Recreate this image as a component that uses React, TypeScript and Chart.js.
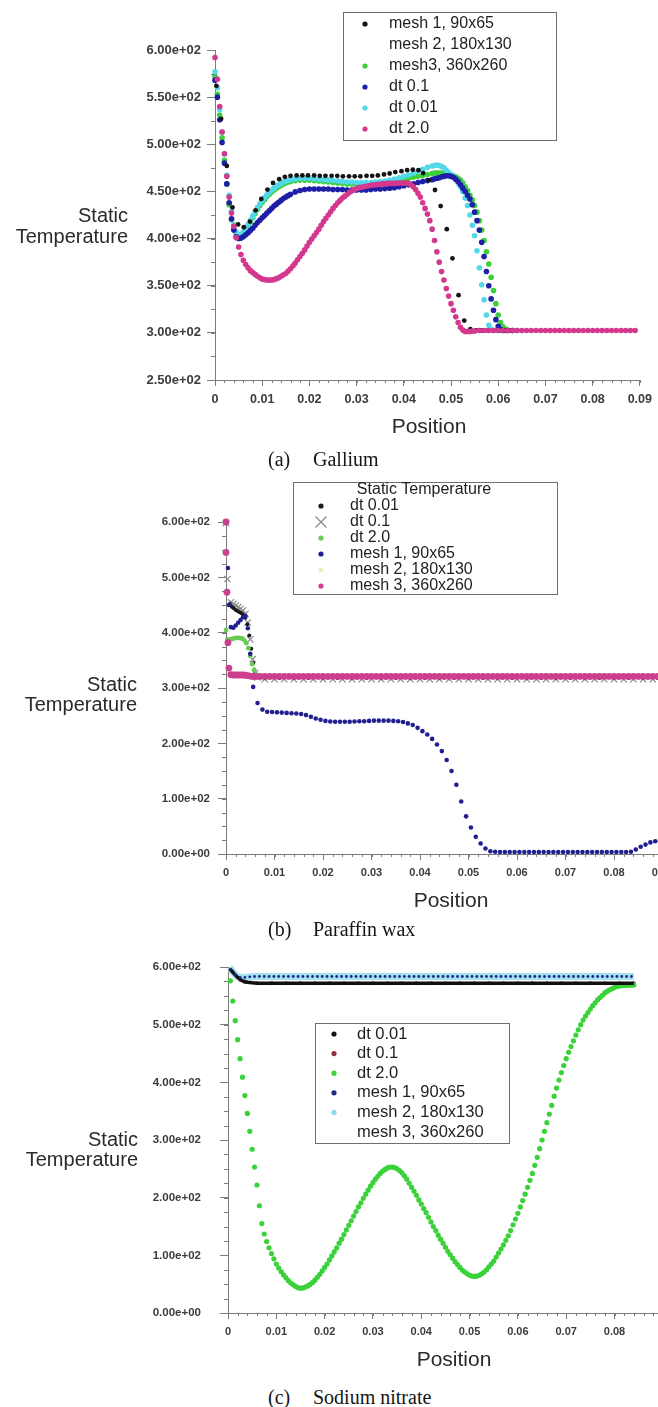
import React, { useEffect, useRef } from "react";
import { Chart, registerables } from "chart.js";

Chart.register(...registerables);

type Pair = [number, number];

const SANS = "'Liberation Sans', Arial, sans-serif";
const SERIF = "'Liberation Serif', 'Times New Roman', serif";
const AXIS = "#7c7c7c";
const TICK = "#3c3c3c";

// ================= (a) Gallium =================
const A_LABELS = ["mesh 1, 90x65", "mesh 2, 180x130", "mesh3, 360x260", "dt 0.1", "dt 0.01", "dt 2.0"];
const A_MESH1: Pair[] = [[0.0003,562],[0.0013,527],[0.0025,477],[0.0037,433],[0.0049,415],[0.0061,412],[0.0074,418],[0.0086,430],[0.0098,442],[0.0111,452],[0.0123,459],[0.0136,463],[0.0148,465.5],[0.016,466.5],[0.0173,467],[0.0185,467],[0.0197,467],[0.021,467],[0.0222,466.5],[0.0234,466.5],[0.0247,466.5],[0.0259,466.5],[0.0271,466],[0.0284,466],[0.0296,466],[0.0308,466],[0.0321,466.5],[0.0333,466.5],[0.0345,467],[0.0358,468],[0.037,469],[0.0382,470.5],[0.0395,471.5],[0.0407,472.5],[0.0419,473],[0.0431,472.5],[0.0441,469.5],[0.0453,462],[0.0466,451.5],[0.0478,434.5],[0.0491,410],[0.0503,379],[0.0516,340],[0.0528,313],[0.0541,304],[0.0553,302.5],[0.0565,302.5],[0.0578,302.5],[0.059,302.5],[0.0602,302.5],[0.0615,302.5],[0.0627,302.5]];
const A_MESH2: Pair[] = [];
const A_MESH3: Pair[] = [[0,572],[0.0005,553],[0.001,531],[0.0015,507],[0.002,483],[0.0025,458],[0.003,436],[0.0035,420],[0.004,410],[0.0045,404],[0.005,402],[0.0055,403],[0.006,405.5],[0.0065,409],[0.007,413],[0.0075,417.5],[0.008,422],[0.0085,426.5],[0.009,431],[0.0095,435],[0.01,438.5],[0.0105,441.5],[0.011,444.5],[0.0115,447],[0.012,449.5],[0.0125,451.5],[0.013,453.5],[0.0135,455],[0.014,456.5],[0.0145,458],[0.015,459],[0.0155,460],[0.016,460.5],[0.017,461.5],[0.018,462],[0.019,462],[0.02,462],[0.021,461.5],[0.022,461],[0.023,460.5],[0.024,460],[0.025,459.5],[0.026,459],[0.027,458.5],[0.028,458],[0.029,458],[0.03,457.5],[0.031,457.5],[0.032,457.5],[0.033,457.5],[0.034,458],[0.035,458.5],[0.036,459],[0.037,460],[0.038,461],[0.039,462],[0.04,463],[0.041,464],[0.042,465],[0.043,466],[0.044,467],[0.045,468],[0.046,469],[0.0465,469.5],[0.047,469.5],[0.0475,469.5],[0.048,469.5],[0.0485,469],[0.049,468.5],[0.0495,468],[0.05,467.5],[0.0505,466.5],[0.051,465.5],[0.0515,464],[0.052,462],[0.0525,459],[0.053,455],[0.0535,451],[0.054,446],[0.0545,441],[0.055,435],[0.0555,428],[0.056,419],[0.0565,409],[0.057,398],[0.0575,386],[0.058,373],[0.0585,359],[0.059,345],[0.0595,331],[0.06,319],[0.0605,311],[0.061,306.5],[0.0615,304],[0.062,303],[0.063,302.5],[0.064,302.5]];
const A_DT01: Pair[] = [[0,568],[0.0005,550],[0.001,526],[0.0015,502],[0.002,480],[0.0025,458],[0.003,438],[0.0035,421],[0.004,409],[0.0045,402],[0.005,400],[0.0055,400.5],[0.006,402],[0.0065,404],[0.007,406],[0.0075,408.5],[0.008,411],[0.0085,414],[0.009,417],[0.0095,419.5],[0.01,422],[0.0105,424.5],[0.011,427],[0.0115,429.5],[0.012,432],[0.0125,434.5],[0.013,436.5],[0.0135,438.5],[0.014,440.5],[0.0145,442.5],[0.015,444],[0.0155,445.5],[0.016,447],[0.017,449.5],[0.018,451],[0.019,452],[0.02,452.5],[0.021,452.5],[0.022,452.5],[0.023,452.5],[0.024,452.5],[0.025,452],[0.026,452],[0.027,452],[0.028,451.5],[0.029,451.5],[0.03,451.5],[0.031,451.5],[0.032,451.5],[0.033,452],[0.034,452.5],[0.035,452.5],[0.036,453],[0.037,453.5],[0.038,454],[0.039,455],[0.04,456],[0.041,457],[0.042,458],[0.043,459.5],[0.044,460.5],[0.045,461.5],[0.046,462.5],[0.0465,463.5],[0.047,464],[0.0475,464.5],[0.048,465.5],[0.0485,466],[0.049,466.5],[0.0495,466.5],[0.05,466],[0.0505,465],[0.051,463],[0.0515,460.5],[0.052,457],[0.0525,453.5],[0.053,450],[0.0535,446],[0.054,442],[0.0545,436],[0.055,428],[0.0555,419],[0.056,409],[0.0565,396],[0.057,381],[0.0575,365],[0.058,350],[0.0585,336],[0.059,324],[0.0595,314],[0.06,307],[0.0605,303.5],[0.061,302.5],[0.0615,302.5],[0.062,302.5],[0.063,302.5]];
const A_DT001: Pair[] = [[0,577],[0.0005,560],[0.001,537],[0.0015,513],[0.002,490],[0.0025,467],[0.003,446],[0.0035,429],[0.004,415],[0.0045,407],[0.005,404],[0.0055,404.5],[0.006,407],[0.0065,411],[0.007,415],[0.0075,419.5],[0.008,424],[0.0085,428.5],[0.009,433],[0.0095,437],[0.01,440.5],[0.0105,443.5],[0.011,446.5],[0.0115,449],[0.012,451.5],[0.0125,453.5],[0.013,455.5],[0.0135,457],[0.014,458.5],[0.0145,460],[0.015,461],[0.0155,462],[0.016,462.5],[0.017,463.5],[0.018,464],[0.019,464],[0.02,464],[0.021,463.5],[0.022,463],[0.023,462.5],[0.024,462],[0.025,461.5],[0.026,461],[0.027,460.5],[0.028,460],[0.029,460],[0.03,459.5],[0.031,459.5],[0.032,459.5],[0.033,459.5],[0.034,460],[0.035,460.5],[0.036,461],[0.037,462],[0.038,463],[0.039,464.5],[0.04,466],[0.041,467.5],[0.042,469.5],[0.043,471.5],[0.044,473.5],[0.045,475.5],[0.046,477],[0.0465,477.5],[0.047,478],[0.0475,477.5],[0.048,476.5],[0.0485,475],[0.049,472.5],[0.0495,470],[0.05,468],[0.0505,466],[0.051,463],[0.0515,459],[0.052,455],[0.0525,450],[0.053,443],[0.0535,435],[0.054,425],[0.0545,414],[0.055,403],[0.0555,387],[0.056,369],[0.0565,351],[0.057,335],[0.0575,319],[0.058,308],[0.0585,303.5],[0.059,302.5],[0.0595,302.5],[0.06,302.5],[0.061,302.5],[0.062,302.5]];
const A_DT2: Pair[] = [[0,592],[0.0005,569],[0.001,540],[0.0015,513],[0.002,490],[0.0025,466],[0.003,444],[0.0035,427],[0.004,413],[0.0045,401],[0.005,391],[0.0055,383],[0.006,377],[0.0065,372.5],[0.007,369],[0.0075,366],[0.008,364],[0.0085,362],[0.009,360],[0.0095,358.5],[0.01,357],[0.0105,356.5],[0.011,356],[0.0115,356],[0.012,356],[0.0125,356.5],[0.013,357.5],[0.0135,358.5],[0.014,360],[0.0145,361.5],[0.015,363],[0.0155,365.5],[0.016,368],[0.0165,371],[0.017,374],[0.0175,377.5],[0.018,381],[0.0185,384.5],[0.019,388],[0.0195,392],[0.02,396],[0.0205,399.5],[0.021,403],[0.0215,406.5],[0.022,410],[0.0225,414],[0.023,418],[0.0235,421.5],[0.024,425],[0.0245,428.5],[0.025,432],[0.0255,435],[0.026,438],[0.0265,440.5],[0.027,443],[0.0275,445],[0.028,447],[0.0285,449],[0.029,450.5],[0.0295,452],[0.03,453],[0.0305,454],[0.031,454.5],[0.0315,455],[0.032,455.5],[0.0325,456],[0.033,456.5],[0.0335,457],[0.034,457],[0.0345,457.5],[0.035,457.5],[0.0355,458],[0.036,458],[0.0365,458.5],[0.037,458.5],[0.0375,458.5],[0.038,458.5],[0.0385,459],[0.039,459],[0.0395,459],[0.04,459],[0.0405,459],[0.041,458.5],[0.0415,457],[0.042,455],[0.0425,452],[0.043,448],[0.0435,444],[0.044,438],[0.0445,432],[0.045,426],[0.0455,419],[0.046,410],[0.0465,398],[0.047,386],[0.0475,375],[0.048,365],[0.0485,356],[0.049,347],[0.0495,339],[0.05,331],[0.0505,324],[0.051,317],[0.0515,311],[0.052,306],[0.0525,303],[0.053,301.5],[0.0535,301.5],[0.054,301.5],[0.0545,302],[0.055,302],[0.056,302.5],[0.057,302.5],[0.058,302.5],[0.059,302.5],[0.06,302.5],[0.061,302.5],[0.062,302.5],[0.063,302.5],[0.064,302.5],[0.065,302.5],[0.066,302.5],[0.067,302.5],[0.068,302.5],[0.069,302.5],[0.07,302.5],[0.071,302.5],[0.072,302.5],[0.073,302.5],[0.074,302.5],[0.075,302.5],[0.076,302.5],[0.077,302.5],[0.078,302.5],[0.079,302.5],[0.08,302.5],[0.081,302.5],[0.082,302.5],[0.083,302.5],[0.084,302.5],[0.085,302.5],[0.086,302.5],[0.087,302.5],[0.088,302.5],[0.089,302.5]];

// ================= (b) Paraffin wax =================
const B_LABELS = ["dt 0.01", "dt 0.1", "dt 2.0", "mesh 1, 90x65", "mesh 2, 180x130", "mesh 3, 360x260"];
const B_DT001: Pair[] = [[0.0002,472],[0.0008,452],[0.0012,447],[0.0016,444],[0.002,441],[0.0024,439],[0.0028,437],[0.0032,435],[0.0036,432],[0.004,427],[0.0044,415],[0.0048,395],[0.0052,371],[0.0056,345],[0.006,326],[0.0065,319],[0.008,318],[0.011,318],[0.014,318],[0.017,318],[0.02,318],[0.023,318],[0.026,318],[0.029,318],[0.032,318],[0.035,318],[0.038,318],[0.041,318],[0.044,318],[0.047,318],[0.05,318],[0.053,318],[0.056,318],[0.059,318],[0.062,318],[0.065,318],[0.068,318],[0.071,318],[0.074,318],[0.077,318],[0.08,318],[0.083,318],[0.086,318],[0.089,318]];
const B_DT01: Pair[] = [[0,598],[0.0003,497],[0.001,455],[0.0015,452],[0.002,449],[0.0025,446],[0.003,443],[0.0035,440],[0.004,434],[0.0045,418],[0.005,388],[0.0055,352],[0.006,327],[0.0065,319],[0.008,316],[0.01,316],[0.012,316],[0.014,316],[0.016,316],[0.018,316],[0.02,316],[0.022,316],[0.024,316],[0.026,316],[0.028,316],[0.03,316],[0.032,316],[0.034,316],[0.036,316],[0.038,316],[0.04,316],[0.042,316],[0.044,316],[0.046,316],[0.048,316],[0.05,316],[0.052,316],[0.054,316],[0.056,316],[0.058,316],[0.06,316],[0.062,316],[0.064,316],[0.066,316],[0.068,316],[0.07,316],[0.072,316],[0.074,316],[0.076,316],[0.078,316],[0.08,316],[0.082,316],[0.084,316],[0.086,316],[0.088,316],[0.09,316]];
const B_DT2: Pair[] = [[0,405],[0.0003,388],[0.0006,387],[0.001,388],[0.0014,389],[0.0018,390],[0.0022,390.5],[0.0026,390.5],[0.003,390],[0.0034,389],[0.0038,386],[0.0042,381],[0.0046,372],[0.005,358],[0.0054,343],[0.0058,333],[0.0062,325],[0.0066,321],[0.009,319],[0.012,319],[0.015,319],[0.018,319],[0.021,319],[0.024,319],[0.027,319],[0.03,319],[0.033,319],[0.036,319],[0.039,319],[0.042,319],[0.045,319],[0.048,319],[0.051,319],[0.054,319],[0.057,319],[0.06,319],[0.063,319],[0.066,319],[0.069,319],[0.072,319],[0.075,319],[0.078,319],[0.081,319],[0.084,319],[0.087,319],[0.09,319]];
const B_MESH1: Pair[] = [[0.0004,517],[0.0006,450],[0.001,410],[0.0015,409],[0.002,413],[0.0025,418],[0.003,423],[0.0035,428],[0.004,430],[0.0045,408],[0.005,362],[0.0056,302],[0.0065,273],[0.0075,261],[0.0085,257],[0.0095,256.5],[0.0105,256],[0.0115,255.5],[0.0125,255],[0.0135,254.5],[0.0145,254],[0.0155,253],[0.0165,251],[0.0175,248],[0.0185,245],[0.0195,242.5],[0.0205,240.5],[0.0215,239.5],[0.0225,239],[0.0235,239],[0.0245,239],[0.0255,239],[0.0265,239.5],[0.0275,240],[0.0285,240],[0.0295,240.5],[0.0305,241],[0.0315,241],[0.0325,241],[0.0335,241],[0.0345,240.5],[0.0355,240],[0.0365,238.5],[0.0375,236],[0.0385,233],[0.0395,228],[0.0405,222],[0.0415,216],[0.0425,208],[0.0435,198],[0.0445,186],[0.0455,170],[0.0465,150],[0.0475,125],[0.0485,95],[0.0495,68],[0.0505,48],[0.0515,31],[0.0525,19],[0.0535,10],[0.0545,5],[0.0555,4],[0.0565,3.5],[0.0575,3.5],[0.0585,3.5],[0.0595,3.5],[0.0605,3.5],[0.0615,3.5],[0.0625,3.5],[0.0635,3.5],[0.0645,3.5],[0.0655,3.5],[0.0665,3.5],[0.0675,3.5],[0.0685,3.5],[0.0695,3.5],[0.0705,3.5],[0.0715,3.5],[0.0725,3.5],[0.0735,3.5],[0.0745,3.5],[0.0755,3.5],[0.0765,3.5],[0.0775,3.5],[0.0785,3.5],[0.0795,3.5],[0.0805,3.5],[0.0815,3.5],[0.0825,3.5],[0.0835,4],[0.0845,8],[0.0855,13],[0.0865,17],[0.0875,21],[0.0885,23],[0.0895,25]];
const B_MESH2: Pair[] = [];
const B_MESH3: Pair[] = [[0,600],[0,545],[0.0002,473],[0.0004,382],[0.0006,336],[0.001,324],[0.0015,323.5],[0.002,323.5],[0.0025,323.5],[0.003,323.5],[0.0035,323.5],[0.004,323],[0.0045,322.5],[0.005,321.5],[0.0055,321],[0.006,321],[0.007,321],[0.008,321],[0.009,321],[0.01,321],[0.011,321],[0.012,321],[0.013,321],[0.014,321],[0.015,321],[0.016,321],[0.017,321],[0.018,321],[0.019,321],[0.02,321],[0.021,321],[0.022,321],[0.023,321],[0.024,321],[0.025,321],[0.026,321],[0.027,321],[0.028,321],[0.029,321],[0.03,321],[0.031,321],[0.032,321],[0.033,321],[0.034,321],[0.035,321],[0.036,321],[0.037,321],[0.038,321],[0.039,321],[0.04,321],[0.041,321],[0.042,321],[0.043,321],[0.044,321],[0.045,321],[0.046,321],[0.047,321],[0.048,321],[0.049,321],[0.05,321],[0.051,321],[0.052,321],[0.053,321],[0.054,321],[0.055,321],[0.056,321],[0.057,321],[0.058,321],[0.059,321],[0.06,321],[0.061,321],[0.062,321],[0.063,321],[0.064,321],[0.065,321],[0.066,321],[0.067,321],[0.068,321],[0.069,321],[0.07,321],[0.071,321],[0.072,321],[0.073,321],[0.074,321],[0.075,321],[0.076,321],[0.077,321],[0.078,321],[0.079,321],[0.08,321],[0.081,321],[0.082,321],[0.083,321],[0.084,321],[0.085,321],[0.086,321],[0.087,321],[0.088,321],[0.089,321],[0.09,321]];

// ================= (c) Sodium nitrate =================
const C_LABELS = ["dt 0.01", "dt 0.1", "dt 2.0", "mesh 1, 90x65", "mesh 2, 180x130", "mesh 3, 360x260"];
const C_DT001: Pair[] = [[0.0003,597],[0.0008,593],[0.0013,588],[0.002,582],[0.003,576],[0.004,573.5],[0.005,572.5],[0.006,572],[0.008,572],[0.01,572],[0.012,572],[0.014,572],[0.016,572],[0.018,572],[0.02,572],[0.022,572],[0.024,572],[0.026,572],[0.028,572],[0.03,572],[0.032,572],[0.034,572],[0.036,572],[0.038,572],[0.04,572],[0.042,572],[0.044,572],[0.046,572],[0.048,572],[0.05,572],[0.052,572],[0.054,572],[0.056,572],[0.058,572],[0.06,572],[0.062,572],[0.064,572],[0.066,572],[0.068,572],[0.07,572],[0.072,572],[0.074,572],[0.076,572],[0.078,572],[0.08,572],[0.082,572],[0.084,572]];
const C_DT01: Pair[] = [[0.0005,594],[0.0015,585],[0.0025,578],[0.0035,574],[0.006,572],[0.009,572],[0.012,572],[0.015,572],[0.018,572],[0.021,572],[0.024,572],[0.027,572],[0.03,572],[0.033,572],[0.036,572],[0.039,572],[0.042,572],[0.045,572],[0.048,572],[0.051,572],[0.054,572],[0.057,572],[0.06,572],[0.063,572],[0.066,572],[0.069,572],[0.072,572],[0.075,572],[0.078,572],[0.081,572],[0.084,572]];
const C_DT2: Pair[] = [[0.0005,576],[0.001,541],[0.0015,507],[0.002,474],[0.0025,441],[0.003,409],[0.0035,377],[0.004,346],[0.0045,315],[0.005,284],[0.0055,253],[0.006,222],[0.0065,186],[0.007,155],[0.0075,137],[0.008,124],[0.0085,113],[0.009,103],[0.0095,94],[0.01,85],[0.0105,78],[0.011,72],[0.0115,66],[0.012,61],[0.0125,56],[0.013,52],[0.0135,49],[0.014,46],[0.0145,44],[0.015,43],[0.0155,43.5],[0.016,45],[0.0165,47],[0.017,49.5],[0.0175,53],[0.018,57],[0.0185,62],[0.019,67],[0.0195,73],[0.02,79],[0.0205,85],[0.021,92],[0.0215,99],[0.022,106],[0.0225,113],[0.023,121],[0.0235,128],[0.024,136],[0.0245,144],[0.025,152],[0.0255,160],[0.026,168],[0.0265,176],[0.027,184],[0.0275,191],[0.028,199],[0.0285,206],[0.029,213],[0.0295,220],[0.03,226],[0.0305,232],[0.031,237],[0.0315,242],[0.032,246],[0.0325,249],[0.033,251.5],[0.0335,253],[0.034,253],[0.0345,252],[0.035,250],[0.0355,247],[0.036,243],[0.0365,238],[0.037,232],[0.0375,225],[0.038,218],[0.0385,211],[0.039,204],[0.0395,196],[0.04,189],[0.0405,181],[0.041,174],[0.0415,166],[0.042,158],[0.0425,150],[0.043,143],[0.0435,135],[0.044,128],[0.0445,121],[0.045,114],[0.0455,107],[0.046,101],[0.0465,95],[0.047,89],[0.0475,84],[0.048,79],[0.0485,74.5],[0.049,71],[0.0495,68],[0.05,65.5],[0.0505,64],[0.051,63.5],[0.0515,64],[0.052,65.5],[0.0525,68],[0.053,71],[0.0535,75],[0.054,80],[0.0545,85],[0.055,90],[0.0555,97],[0.056,104],[0.0565,111],[0.057,118],[0.0575,126],[0.058,134],[0.0585,143],[0.059,153],[0.0595,163],[0.06,173],[0.0605,184],[0.061,195],[0.0615,206],[0.062,218],[0.0625,230],[0.063,242],[0.0635,256],[0.064,270],[0.0645,285],[0.065,300],[0.0655,315],[0.066,330],[0.0665,345],[0.067,360],[0.0675,376],[0.068,390],[0.0685,404],[0.069,417],[0.0695,429],[0.07,441],[0.0705,452],[0.071,462],[0.0715,472],[0.072,482],[0.0725,491],[0.073,500],[0.0735,508],[0.074,515],[0.0745,521],[0.075,527],[0.0755,533],[0.076,538],[0.0765,543],[0.077,547],[0.0775,551],[0.078,555],[0.0785,558],[0.079,560.5],[0.0795,562.5],[0.08,564.5],[0.0805,566],[0.081,567],[0.0815,567.5],[0.082,568],[0.0825,568],[0.083,568.5],[0.0835,568.5],[0.084,569]];
const C_MESH1: Pair[] = [[0.0005,596],[0.0015,587],[0.0025,582],[0.0035,582],[0.0045,583],[0.0055,583.5],[0.0065,583.5],[0.0075,583.5],[0.0085,583.5],[0.0095,583.5],[0.0105,583.5],[0.0115,583.5],[0.0125,583.5],[0.0135,583.5],[0.0145,583.5],[0.0155,583.5],[0.0165,583.5],[0.0175,583.5],[0.0185,583.5],[0.0195,583.5],[0.0205,583.5],[0.0215,583.5],[0.0225,583.5],[0.0235,583.5],[0.0245,583.5],[0.0255,583.5],[0.0265,583.5],[0.0275,583.5],[0.0285,583.5],[0.0295,583.5],[0.0305,583.5],[0.0315,583.5],[0.0325,583.5],[0.0335,583.5],[0.0345,583.5],[0.0355,583.5],[0.0365,583.5],[0.0375,583.5],[0.0385,583.5],[0.0395,583.5],[0.0405,583.5],[0.0415,583.5],[0.0425,583.5],[0.0435,583.5],[0.0445,583.5],[0.0455,583.5],[0.0465,583.5],[0.0475,583.5],[0.0485,583.5],[0.0495,583.5],[0.0505,583.5],[0.0515,583.5],[0.0525,583.5],[0.0535,583.5],[0.0545,583.5],[0.0555,583.5],[0.0565,583.5],[0.0575,583.5],[0.0585,583.5],[0.0595,583.5],[0.0605,583.5],[0.0615,583.5],[0.0625,583.5],[0.0635,583.5],[0.0645,583.5],[0.0655,583.5],[0.0665,583.5],[0.0675,583.5],[0.0685,583.5],[0.0695,583.5],[0.0705,583.5],[0.0715,583.5],[0.0725,583.5],[0.0735,583.5],[0.0745,583.5],[0.0755,583.5],[0.0765,583.5],[0.0775,583.5],[0.0785,583.5],[0.0795,583.5],[0.0805,583.5],[0.0815,583.5],[0.0825,583.5],[0.0835,583.5]];
const C_MESH2: Pair[] = [[0.0003,599],[0.0008,594],[0.0013,588],[0.002,583],[0.003,581.5],[0.004,582.5],[0.005,583],[0.006,583.5],[0.008,583.5],[0.01,583.5],[0.012,583.5],[0.014,583.5],[0.016,583.5],[0.018,583.5],[0.02,583.5],[0.022,583.5],[0.024,583.5],[0.026,583.5],[0.028,583.5],[0.03,583.5],[0.032,583.5],[0.034,583.5],[0.036,583.5],[0.038,583.5],[0.04,583.5],[0.042,583.5],[0.044,583.5],[0.046,583.5],[0.048,583.5],[0.05,583.5],[0.052,583.5],[0.054,583.5],[0.056,583.5],[0.058,583.5],[0.06,583.5],[0.062,583.5],[0.064,583.5],[0.066,583.5],[0.068,583.5],[0.07,583.5],[0.072,583.5],[0.074,583.5],[0.076,583.5],[0.078,583.5],[0.08,583.5],[0.082,583.5],[0.084,583.5]];
const C_MESH3: Pair[] = [];

// ================= plugins =================
const boxLegendPlugin = {
  id: "boxLegend",
  afterDraw(chart: any, _a: any, o: any) {
    if (!o || !o.show) return;
    const ctx = chart.ctx;
    ctx.save();
    ctx.fillStyle = "#ffffff";
    ctx.fillRect(o.left, o.top, o.width, o.height);
    ctx.strokeStyle = "#6f6f6f";
    ctx.lineWidth = 1;
    ctx.strokeRect(o.left + 0.5, o.top + 0.5, o.width, o.height);
    ctx.fillStyle = "#1e1e1e";
    ctx.textBaseline = "middle";
    ctx.font = `${o.fontSize}px ${SANS}`;
    if (o.title) {
      ctx.textAlign = "center";
      ctx.fillText(o.title, o.titleX, o.titleY);
    }
    ctx.textAlign = "left";
    chart.data.datasets.forEach((ds: any, i: number) => {
      const y = o.firstRowY + i * o.rowHeight;
      if (ds.legendColor) {
        ctx.save();
        if (ds.legendStyle === "crossRot") {
          ctx.strokeStyle = ds.legendColor;
          ctx.lineWidth = 1.3;
          const r = 5.5;
          ctx.beginPath();
          ctx.moveTo(o.markerX - r, y - r);
          ctx.lineTo(o.markerX + r, y + r);
          ctx.moveTo(o.markerX + r, y - r);
          ctx.lineTo(o.markerX - r, y + r);
          ctx.stroke();
        } else {
          ctx.fillStyle = ds.legendColor;
          ctx.beginPath();
          ctx.arc(o.markerX, y, 2.6, 0, Math.PI * 2);
          ctx.fill();
        }
        ctx.restore();
      }
      ctx.fillStyle = "#1e1e1e";
      ctx.fillText(ds.label, o.textX, y);
    });
    ctx.restore();
  },
};

const panelTextPlugin = {
  id: "panelText",
  afterDraw(chart: any, _a: any, o: any) {
    if (!o || !o.items) return;
    const ctx = chart.ctx;
    ctx.save();
    ctx.fillStyle = "#2a2a2a";
    ctx.textBaseline = "middle";
    for (const it of o.items) {
      ctx.font = `${it.size}px ${SANS}`;
      ctx.textAlign = it.align;
      ctx.fillText(it.text, it.x, it.y);
    }
    ctx.restore();
  },
};

const minorTicksPlugin = {
  id: "minorTicks",
  afterDraw(chart: any, _a: any, o: any) {
    if (!o) return;
    const { ctx, chartArea } = chart;
    const xs = chart.scales.x;
    const ys = chart.scales.y;
    ctx.save();
    ctx.strokeStyle = AXIS;
    ctx.lineWidth = 1;
    ctx.beginPath();
    for (let i = 0; ; i++) {
      const v = ys.min + i * o.yStep;
      if (v > ys.max + 1e-9) break;
      const py = Math.round(ys.getPixelForValue(v)) + 0.5;
      ctx.moveTo(chartArea.left - o.yLen, py);
      ctx.lineTo(chartArea.left, py);
    }
    for (let i = 0; ; i++) {
      const v = xs.min + i * o.xStep;
      if (v > xs.max + 1e-9) break;
      const px = Math.round(xs.getPixelForValue(v)) + 0.5;
      ctx.moveTo(px, chartArea.bottom);
      ctx.lineTo(px, chartArea.bottom + o.xLen);
    }
    ctx.stroke();
    ctx.restore();
  },
};

// ================= panel builder =================
interface DS {
  label: string;
  data: Pair[];
  color: string;
  radius: number;
  order: number;
  style?: string;
  lineWidth?: number;
  legendColor: string | null;
}

interface PanelCfg {
  top: number;
  width: number;
  height: number;
  padding: { top: number; left: number; right: number; bottom: number };
  yWidth: number;
  xHeight: number;
  xMax: number;
  yMin: number;
  yStep: number;
  yMinor: number;
  xMinor: number;
  yFont: number;
  xFont: number;
  yPad: number;
  xPad: number;
  legend: any;
  texts: any[];
  datasets: DS[];
}

function fmtY(v: number) {
  const s = Number(v).toExponential(2);
  return s.replace(/e([+-])(\d)$/, "e$10$2");
}

function buildConfig(cfg: PanelCfg): any {
  return {
    type: "scatter",
    data: {
      datasets: cfg.datasets.map((d) => ({
        label: d.label,
        data: d.data.map(([x, y]) => ({ x, y })),
        pointStyle: d.style || "circle",
        pointRadius: d.lineWidth ? 0 : d.radius,
        pointBackgroundColor: d.color,
        pointBorderColor: d.color,
        pointBorderWidth: d.style === "crossRot" ? 1.2 : 0,
        showLine: !!d.lineWidth,
        borderColor: d.color,
        backgroundColor: d.color,
        borderWidth: d.lineWidth || 0,
        order: d.order,
        clip: false,
        legendColor: d.legendColor,
        legendStyle: d.style || "circle",
      })),
    },
    options: {
      responsive: true,
      maintainAspectRatio: false,
      animation: false,
      events: [],
      layout: { padding: cfg.padding },
      plugins: {
        legend: { display: false },
        tooltip: { enabled: false },
        boxLegend: cfg.legend,
        panelText: { items: cfg.texts },
        minorTicks: { yStep: cfg.yMinor, xStep: cfg.xMinor, yLen: 4, xLen: 3 },
      },
      scales: {
        x: {
          type: "linear",
          min: 0,
          max: cfg.xMax,
          afterFit: (s: any) => {
            s.height = cfg.xHeight;
          },
          border: { display: true, color: AXIS, width: 1 },
          grid: { display: true, drawOnChartArea: false, drawTicks: true, tickLength: 6, tickColor: AXIS },
          ticks: {
            stepSize: 0.01,
            includeBounds: false,
            autoSkip: false,
            maxRotation: 0,
            padding: cfg.xPad,
            color: TICK,
            font: { family: SANS, size: cfg.xFont, weight: "bold" },
            callback: (v: any) => (Math.abs(v) < 1e-9 ? "0" : Number(v).toFixed(2)),
          },
        },
        y: {
          type: "linear",
          min: cfg.yMin,
          max: 600,
          afterFit: (s: any) => {
            s.width = cfg.yWidth;
          },
          border: { display: true, color: AXIS, width: 1 },
          grid: { display: true, drawOnChartArea: false, drawTicks: true, tickLength: 8, tickColor: AXIS },
          ticks: {
            stepSize: cfg.yStep,
            autoSkip: false,
            padding: cfg.yPad,
            color: TICK,
            font: { family: SANS, size: cfg.yFont, weight: "bold" },
            callback: (v: any) => fmtY(v),
          },
        },
      },
    },
    plugins: [minorTicksPlugin, boxLegendPlugin, panelTextPlugin],
  };
}

function Panel({ cfg }: { cfg: PanelCfg }) {
  const ref = useRef<HTMLCanvasElement>(null);
  useEffect(() => {
    if (!ref.current) return;
    const chart = new Chart(ref.current, buildConfig(cfg));
    return () => chart.destroy();
  }, [cfg]);
  return (
    <div style={{ position: "absolute", left: 0, top: cfg.top, width: cfg.width, height: cfg.height }}>
      <canvas ref={ref} />
    </div>
  );
}

const PANEL_A: PanelCfg = {
  top: 0,
  width: 658,
  height: 445,
  padding: { top: 50, left: 0, right: 14, bottom: 5 },
  yWidth: 215,
  xHeight: 60,
  xMax: 0.09,
  yMin: 250,
  yStep: 50,
  yMinor: 25,
  xMinor: 0.002,
  yFont: 13,
  xFont: 12.5,
  yPad: 6,
  xPad: 6,
  legend: { show: true, left: 343, top: 12, width: 213, height: 128, firstRowY: 24, rowHeight: 21, markerX: 365, textX: 389, fontSize: 16 },
  texts: [
    { text: "Static", x: 128, y: 216, align: "right", size: 20 },
    { text: "Temperature", x: 128, y: 237, align: "right", size: 20 },
    { text: "Position", x: 429, y: 427, align: "center", size: 21 },
  ],
  datasets: [
    { label: A_LABELS[0], data: A_MESH1, color: "#141414", radius: 2.4, order: 1, legendColor: "#141414" },
    { label: A_LABELS[1], data: A_MESH2, color: "#fbfbf0", radius: 2.4, order: 5, legendColor: null },
    { label: A_LABELS[2], data: A_MESH3, color: "#3ccf3c", radius: 2.8, order: 4, legendColor: "#3ccf3c" },
    { label: A_LABELS[3], data: A_DT01, color: "#1e1ea6", radius: 2.8, order: 2, legendColor: "#1e1ea6" },
    { label: A_LABELS[4], data: A_DT001, color: "#52d8e8", radius: 2.8, order: 3, legendColor: "#52d8e8" },
    { label: A_LABELS[5], data: A_DT2, color: "#d4388e", radius: 2.8, order: 0, legendColor: "#d4388e" },
  ],
};

const PANEL_B: PanelCfg = {
  top: 470,
  width: 685,
  height: 450,
  padding: { top: 52, left: 0, right: 22.5, bottom: 6 },
  yWidth: 226,
  xHeight: 60,
  xMax: 0.09,
  yMin: 0,
  yStep: 100,
  yMinor: 25,
  xMinor: 0.002,
  yFont: 11.5,
  xFont: 11,
  yPad: 8,
  xPad: 6,
  legend: { show: true, left: 293, top: 12, width: 264, height: 112, title: "Static Temperature", titleX: 424, titleY: 20, firstRowY: 36, rowHeight: 16, markerX: 321, textX: 350, fontSize: 16 },
  texts: [
    { text: "Static", x: 137, y: 215, align: "right", size: 20 },
    { text: "Temperature", x: 137, y: 235, align: "right", size: 20 },
    { text: "Position", x: 451, y: 431, align: "center", size: 21 },
  ],
  datasets: [
    { label: B_LABELS[0], data: B_DT001, color: "#1a1a1a", radius: 2, order: 3, legendColor: "#1a1a1a" },
    { label: B_LABELS[1], data: B_DT01, color: "#8c8c8c", radius: 4.5, order: 4, style: "crossRot", legendColor: "#8c8c8c" },
    { label: B_LABELS[2], data: B_DT2, color: "#66cc55", radius: 2.4, order: 2, legendColor: "#66cc55" },
    { label: B_LABELS[3], data: B_MESH1, color: "#202090", radius: 2.3, order: 0, legendColor: "#202090" },
    { label: B_LABELS[4], data: B_MESH2, color: "#f4f1c4", radius: 2.3, order: 5, legendColor: "#f1edc0" },
    { label: B_LABELS[5], data: B_MESH3, color: "#cc3f8e", radius: 3.4, order: 1, legendColor: "#cc3f8e" },
  ],
};

const PANEL_C: PanelCfg = {
  top: 930,
  width: 680,
  height: 447,
  padding: { top: 37, left: 0, right: 22, bottom: 4 },
  yWidth: 228,
  xHeight: 60,
  xMax: 0.089,
  yMin: 0,
  yStep: 100,
  yMinor: 25,
  xMinor: 0.002,
  yFont: 11.5,
  xFont: 11,
  yPad: 19,
  xPad: 6,
  legend: { show: true, left: 315, top: 93, width: 194, height: 120, firstRowY: 104, rowHeight: 19.6, markerX: 334, textX: 357, fontSize: 16.5 },
  texts: [
    { text: "Static", x: 138, y: 210, align: "right", size: 20 },
    { text: "Temperature", x: 138, y: 230, align: "right", size: 20 },
    { text: "Position", x: 454, y: 430, align: "center", size: 21 },
  ],
  datasets: [
    { label: C_LABELS[0], data: C_DT001, color: "#101010", radius: 0, order: 1, lineWidth: 3.5, legendColor: "#101010" },
    { label: C_LABELS[1], data: C_DT01, color: "#9b2f3f", radius: 2, order: 4, legendColor: "#9b2f3f" },
    { label: C_LABELS[2], data: C_DT2, color: "#39d239", radius: 2.6, order: 3, legendColor: "#39d239" },
    { label: C_LABELS[3], data: C_MESH1, color: "#1c2a8c", radius: 1.4, order: 0, legendColor: "#1c2a8c" },
    { label: C_LABELS[4], data: C_MESH2, color: "#a6e2ee", radius: 0, order: 2, lineWidth: 7, legendColor: "#8fd8ea" },
    { label: C_LABELS[5], data: C_MESH3, color: "#ffffff", radius: 0, order: 5, legendColor: null },
  ],
};

function Caption({ y, tag, name }: { y: number; tag: string; name: string }) {
  const common: React.CSSProperties = {
    position: "absolute",
    top: y - 13,
    height: 26,
    lineHeight: "26px",
    fontFamily: SERIF,
    fontSize: 20,
    color: "#151515",
    whiteSpace: "nowrap",
  };
  return (
    <>
      <div style={{ ...common, left: 268 }}>{tag}</div>
      <div style={{ ...common, left: 313 }}>{name}</div>
    </>
  );
}

export default function App() {
  return (
    <div
      style={{
        position: "absolute",
        left: 0,
        top: 0,
        width: 658,
        height: 1407,
        overflow: "hidden",
        background: "#ffffff",
      }}
    >
      <Panel cfg={PANEL_A} />
      <Panel cfg={PANEL_B} />
      <Panel cfg={PANEL_C} />
      <Caption y={459} tag="(a)" name="Gallium" />
      <Caption y={929} tag="(b)" name="Paraffin wax" />
      <Caption y={1397} tag="(c)" name="Sodium nitrate" />
    </div>
  );
}
